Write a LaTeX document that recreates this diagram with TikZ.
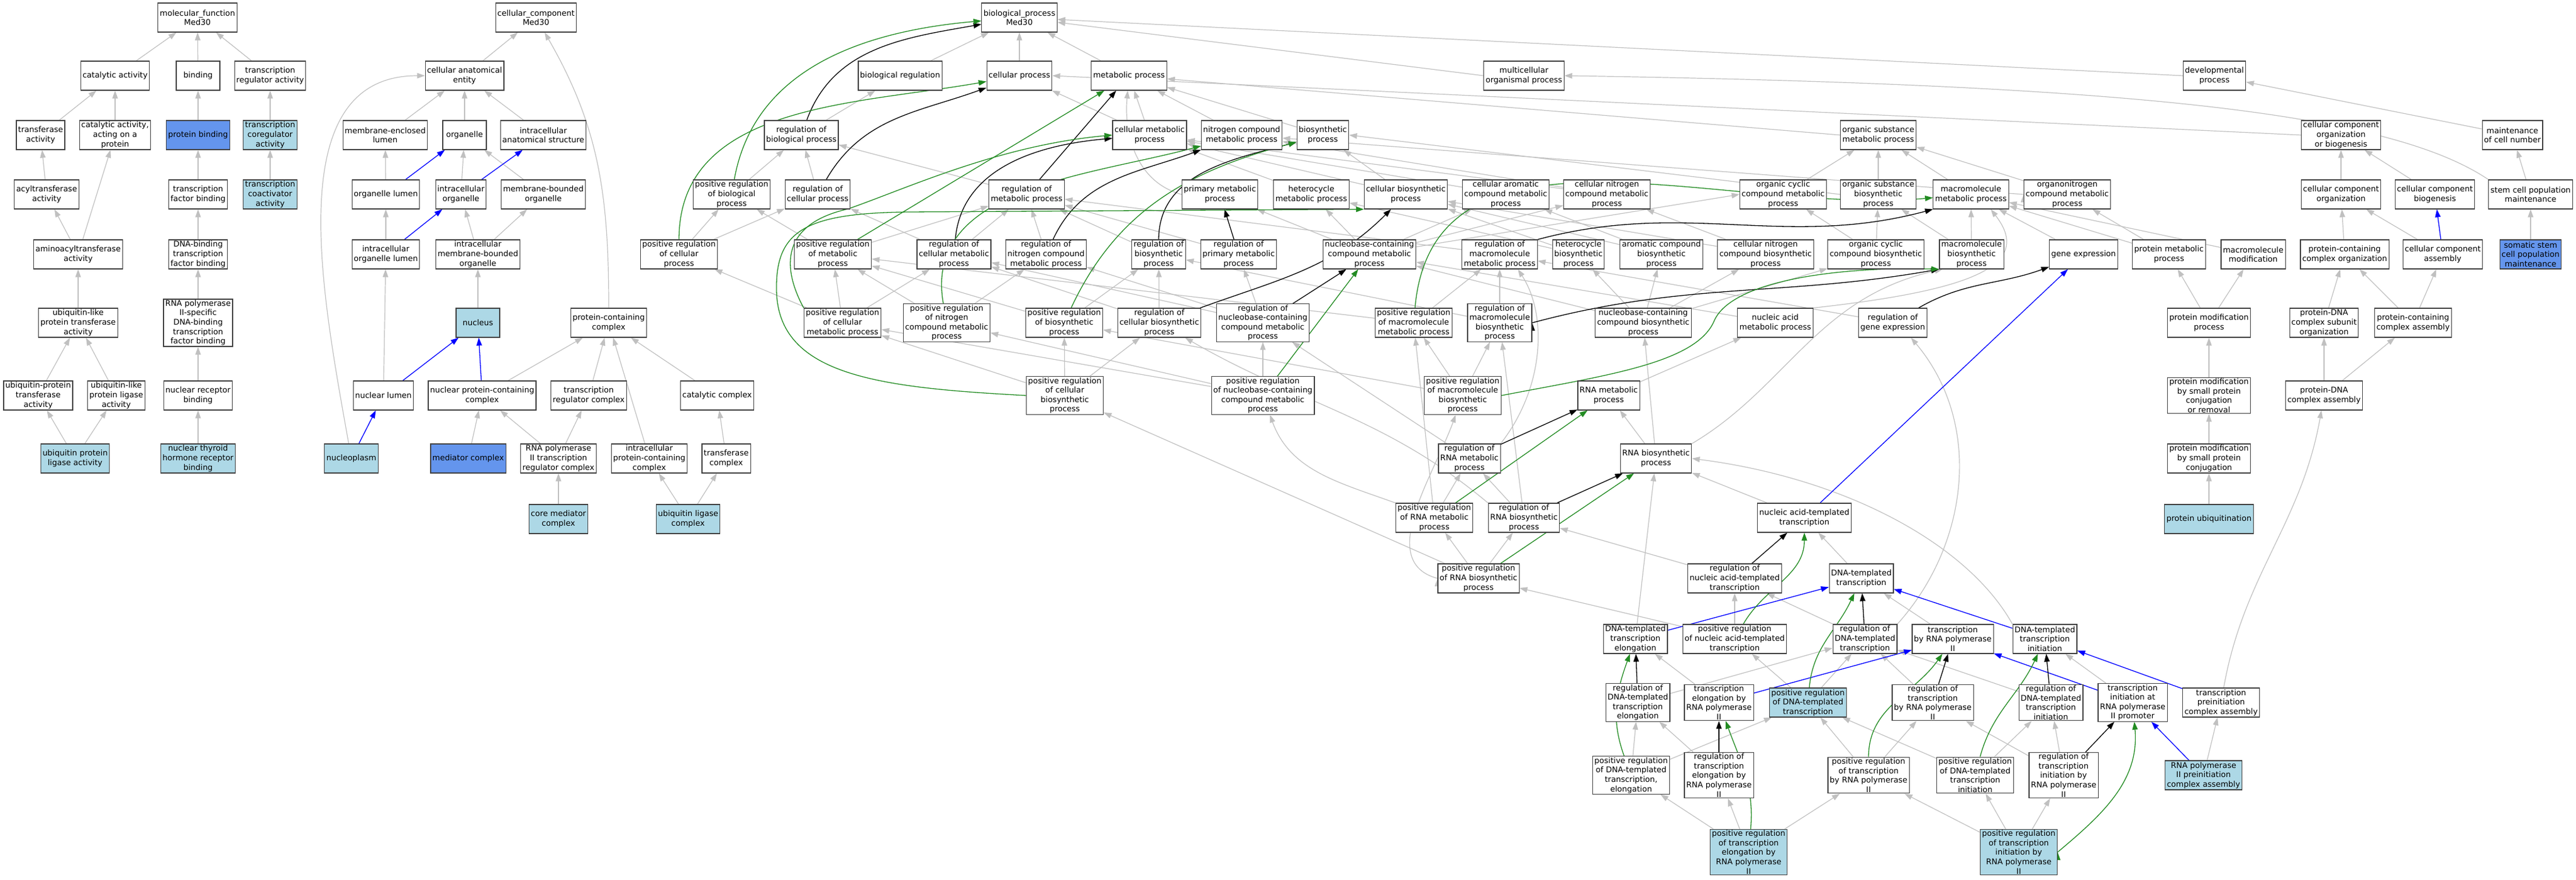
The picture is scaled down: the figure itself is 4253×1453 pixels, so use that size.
\documentclass[tikz,border=0pt]{standalone}
\usepackage{fontspec}
\setmainfont{DejaVu Sans}
\usetikzlibrary{arrows.meta}
\definecolor{lb}{HTML}{ADD8E6}
\definecolor{cb}{HTML}{6495ED}
\definecolor{eg}{HTML}{C0C0C0}
\definecolor{fg}{HTML}{228B22}
\pgfdeclarelayer{bg}
\pgfsetlayers{bg,main}
\begin{document}
\begin{tikzpicture}[x=1pt, y=1pt]
\tikzstyle{every node}=[draw=black!75, line width=1.1pt, shape=rectangle, fill=white, align=center, font=\fontsize{13}{15.6}\selectfont, inner xsep=3pt, inner ysep=1.5pt, minimum width=72pt, minimum height=48pt];
\tikzstyle{isa}=[color=eg, line width=1.2pt, -{Triangle[length=13pt,width=9pt]}];
\tikzstyle{partof}=[color=blue, line width=1.3pt, -{Triangle[length=13pt,width=9pt]}];
\tikzstyle{regs}=[color=black, line width=1.3pt, -{Triangle[length=13pt,width=9pt]}];
\tikzstyle{posregs}=[color=fg, line width=1.3pt, -{Triangle[length=13pt,width=9pt]}];
\useasboundingbox (0,0) rectangle (4253,-1453);
% molecular function
\node (mf) at (326,-29) {molecular\_function\\Med30};
\node (catact) at (190,-125) {catalytic activity};
\node (bind) at (327,-125) {binding};
\node (trreg) at (446,-125) {transcription\\regulator activity};
\node (transf) at (67,-223) {transferase\\activity};
\node (catprot) at (190,-223) {catalytic activity,\\acting on a\\protein};
\node [fill = cb] (protbind) at (327,-223) {protein binding};
\node [fill = lb] (coreg) at (446,-223) {transcription\\coregulator\\activity};
\node (acyl) at (77,-321) {acyltransferase\\activity};
\node (tfbind) at (327,-321) {transcription\\factor binding};
\node [fill = lb] (coact) at (446,-321) {transcription\\coactivator\\activity};
\node (aminoacyl) at (129,-420) {aminoacyltransferase\\activity};
\node (dnatf) at (327,-420) {DNA-binding\\transcription\\factor binding};
\node (ubltrans) at (129,-533) {ubiquitin-like\\protein transferase\\activity};
\node (polIItf) at (327,-533) {RNA polymerase\\II-specific\\DNA-binding\\transcription\\factor binding};
\node (ubptrans) at (63,-653) {ubiquitin-protein\\transferase\\activity};
\node (ublig) at (192,-653) {ubiquitin-like\\protein ligase\\activity};
\node (nrbind) at (327,-653) {nuclear receptor\\binding};
\node [fill = lb] (ubplig) at (124,-757) {ubiquitin protein\\ligase activity};
\node [fill = lb] (thyroid) at (327,-757) {nuclear thyroid\\hormone receptor\\binding};
% cellular component
\node (cc) at (885,-29) {cellular\_component\\Med30};
\node (cae) at (767,-125) {cellular anatomical\\entity};
\node (mel) at (636,-223) {membrane-enclosed\\lumen};
\node (organelle) at (767,-223) {organelle};
\node (ias) at (897,-223) {intracellular\\anatomical structure};
\node (orglumen) at (637,-321) {organelle lumen};
\node (intorg) at (761,-321) {intracellular\\organelle};
\node (mbo) at (897,-321) {membrane-bounded\\organelle};
\node (intorglumen) at (637,-420) {intracellular\\organelle lumen};
\node (imbo) at (789,-420) {intracellular\\membrane-bounded\\organelle};
\node [fill = lb] (nucleus) at (789,-533) {nucleus};
\node (pcc) at (1005,-533) {protein-containing\\complex};
\node (nuclumen) at (633,-653) {nuclear lumen};
\node (npcc) at (796,-653) {nuclear protein-containing\\complex};
\node (trc) at (972,-653) {transcription\\regulator complex};
\node (catcomplex) at (1184,-653) {catalytic complex};
\node [fill = lb] (nucleoplasm) at (580,-757) {nucleoplasm};
\node [fill = cb] (mediator) at (773,-757) {mediator complex};
\node (polIItrc) at (922,-757) {RNA polymerase\\II transcription\\regulator complex};
\node (ipcc) at (1072,-757) {intracellular\\protein-containing\\complex};
\node (trfcomplex) at (1199,-757) {transferase\\complex};
\node [fill = lb] (coremed) at (922,-857) {core mediator\\complex};
\node [fill = lb] (ubligcomplex) at (1136,-857) {ubiquitin ligase\\complex};
% biological process
\node (bp) at (1683,-29) {biological\_process\\Med30};
\node (bioreg) at (1486,-125) {biological regulation};
\node (cellproc) at (1683,-125) {cellular process};
\node (metproc) at (1864,-125) {metabolic process};
\node (multicell) at (2516,-125) {multicellular\\organismal process};
\node (devproc) at (3656,-125) {developmental\\process};
\node (regbio) at (1323,-223) {regulation of\\biological process};
\node (cellmet) at (1898,-223) {cellular metabolic\\process};
\node (nitromet) at (2050,-223) {nitrogen compound\\metabolic process};
\node (biosyn) at (2184,-223) {biosynthetic\\process};
\node (orgsubmet) at (3101,-223) {organic substance\\metabolic process};
\node (ccob) at (3865,-223) {cellular component\\organization\\or biogenesis};
\node (maintcell) at (4148,-223) {maintenance\\of cell number};
\node (posregbio) at (1208,-321) {positive regulation\\of biological\\process};
\node (regcell) at (1350,-321) {regulation of\\cellular process};
\node (regmet) at (1695,-321) {regulation of\\metabolic process};
\node (primet) at (2014,-321) {primary metabolic\\process};
\node (hetmet) at (2165,-321) {heterocycle\\metabolic process};
\node (cellbiosyn) at (2321,-321) {cellular biosynthetic\\process};
\node (cellarom) at (2486,-321) {cellular aromatic\\compound metabolic\\process};
\node (cellnitro) at (2653,-321) {cellular nitrogen\\compound metabolic\\process};
\node (orgcycmet) at (2944,-321) {organic cyclic\\compound metabolic\\process};
\node (orgsubbio) at (3101,-321) {organic substance\\biosynthetic\\process};
\node (macromet) at (3254,-321) {macromolecule\\metabolic process};
\node (orgnitro) at (3413,-321) {organonitrogen\\compound metabolic\\process};
\node (ccorg) at (3865,-321) {cellular component\\organization};
\node (ccbio) at (4020,-321) {cellular component\\biogenesis};
\node (stemcell) at (4178,-321) {stem cell population\\maintenance};
\node (posregcell) at (1121,-420) {positive regulation\\of cellular\\process};
\node (posregmet) at (1375,-420) {positive regulation\\of metabolic\\process};
\node (regcellmet) at (1575,-420) {regulation of\\cellular metabolic\\process};
\node (regnitro) at (1727,-420) {regulation of\\nitrogen compound\\metabolic process};
\node (regbiosyn) at (1913,-420) {regulation of\\biosynthetic\\process};
\node (regprimet) at (2045,-420) {regulation of\\primary metabolic\\process};
\node (nucmet) at (2261,-420) {nucleobase-containing\\compound metabolic\\process};
\node (regmacromet) at (2476,-420) {regulation of\\macromolecule\\metabolic process};
\node (hetbiosyn) at (2606,-420) {heterocycle\\biosynthetic\\process};
\node (arombiosyn) at (2743,-420) {aromatic compound\\biosynthetic\\process};
\node (cellnitrobio) at (2915,-420) {cellular nitrogen\\compound biosynthetic\\process};
\node (orgcycbio) at (3097,-420) {organic cyclic\\compound biosynthetic\\process};
\node (macrobio) at (3255,-420) {macromolecule\\biosynthetic\\process};
\node (geneexpr) at (3440,-420) {gene expression};
\node (protmet) at (3581,-420) {protein metabolic\\process};
\node (macromod) at (3720,-420) {macromolecule\\modification};
\node (pcorg) at (3871,-420) {protein-containing\\complex organization};
\node (ccassembly) at (4033,-420) {cellular component\\assembly};
\node [fill = cb] (somatic) at (4178,-420) {somatic stem\\cell population\\maintenance};
\node (posregcellmet) at (1391,-533) {positive regulation\\of cellular\\metabolic process};
\node (posregnitro) at (1563,-533) {positive regulation\\of nitrogen\\compound metabolic\\process};
\node (posregbiosyn) at (1757,-533) {positive regulation\\of biosynthetic\\process};
\node (regcellbio) at (1914,-533) {regulation of\\cellular biosynthetic\\process};
\node (regnucmet) at (2085,-533) {regulation of\\nucleobase-containing\\compound metabolic\\process};
\node (posregmacromet) at (2334,-533) {positive regulation\\of macromolecule\\metabolic process};
\node (regmacrobio) at (2476,-533) {regulation of\\macromolecule\\biosynthetic\\process};
\node (nucbiosyn) at (2713,-533) {nucleobase-containing\\compound biosynthetic\\process};
\node (nucacidmet) at (2931,-533) {nucleic acid\\metabolic process};
\node (reggeneexpr) at (3125,-533) {regulation of\\gene expression};
\node (protmod) at (3647,-533) {protein modification\\process};
\node (pdnaorg) at (3837,-533) {protein-DNA\\complex subunit\\organization};
\node (pcassembly) at (3984,-533) {protein-containing\\complex assembly};
\node (posregcellbio) at (1758,-653) {positive regulation\\of cellular\\biosynthetic\\process};
\node (posregnucmet) at (2085,-653) {positive regulation\\of nucleobase-containing\\compound metabolic\\process};
\node (posregmacrobio) at (2415,-653) {positive regulation\\of macromolecule\\biosynthetic\\process};
\node (rnamet) at (2656,-653) {RNA metabolic\\process};
\node (protmodsmall) at (3647,-653) {protein modification\\by small protein\\conjugation\\or removal};
\node (pdnaassembly) at (3837,-653) {protein-DNA\\complex assembly};
\node (regrnamet) at (2426,-757) {regulation of\\RNA metabolic\\process};
\node (rnabiosyn) at (2734,-757) {RNA biosynthetic\\process};
\node (protmodconj) at (3647,-757) {protein modification\\by small protein\\conjugation};
\node (posregrnamet) at (2368,-855) {positive regulation\\of RNA metabolic\\process};
\node (regrnabio) at (2516,-855) {regulation of\\RNA biosynthetic\\process};
\node (natemp) at (2979,-855) {nucleic acid-templated\\transcription};
\node [fill = lb] (protubiq) at (3647,-857) {protein ubiquitination};
\node (posregrnabio) at (2441,-955) {positive regulation\\of RNA biosynthetic\\process};
\node (regnatemp) at (2864,-955) {regulation of\\nucleic acid-templated\\transcription};
\node (dtemp) at (3073,-955) {DNA-templated\\transcription};
\node (dtelong) at (2700,-1055) {DNA-templated\\transcription\\elongation};
\node (posregnatemp) at (2864,-1055) {positive regulation\\of nucleic acid-templated\\transcription};
\node (regdtemp) at (3079,-1055) {regulation of\\DNA-templated\\transcription};
\node (trpolii) at (3224,-1055) {transcription\\by RNA polymerase\\II};
\node (dtinit) at (3376,-1055) {DNA-templated\\transcription\\initiation};
\node (regdtelong) at (2704,-1160) {regulation of\\DNA-templated\\transcription\\elongation};
\node (trelongpolii) at (2838,-1160) {transcription\\elongation by\\RNA polymerase\\II};
\node [fill = lb] (posregdtemp) at (2985,-1160) {positive regulation\\of DNA-templated\\transcription};
\node (regtrpolii) at (3191,-1160) {regulation of\\transcription\\by RNA polymerase\\II};
\node (regdtinit) at (3386,-1160) {regulation of\\DNA-templated\\transcription\\initiation};
\node (trinitpolii) at (3521,-1160) {transcription\\initiation at\\RNA polymerase\\II promoter};
\node (preinit) at (3667,-1160) {transcription\\preinitiation\\complex assembly};
\node (posregdtelong) at (2693,-1280) {positive regulation\\of DNA-templated\\transcription,\\elongation};
\node (regtrelongpolii) at (2838,-1280) {regulation of\\transcription\\elongation by\\RNA polymerase\\II};
\node (posregtrpolii) at (3085,-1280) {positive regulation\\of transcription\\by RNA polymerase\\II};
\node (posregdtinit) at (3261,-1280) {positive regulation\\of DNA-templated\\transcription\\initiation};
\node (regtrinitpolii) at (3407,-1280) {regulation of\\transcription\\initiation by\\RNA polymerase\\II};
\node [fill = lb] (polIIpreinit) at (3638,-1280) {RNA polymerase\\II preinitiation\\complex assembly};
\node [fill = lb] (posregtrelong) at (2887,-1407) {positive regulation\\of transcription\\elongation by\\RNA polymerase\\II};
\node [fill = lb] (posregtrinit) at (3333,-1407) {positive regulation\\of transcription\\initiation by\\RNA polymerase\\II};
\begin{pgfonlayer}{bg}
\draw[isa] (catact) edge (mf) (bind) edge (mf) (trreg) edge (mf) % molecular function
 (transf) edge (catact) (catprot) edge (catact) (protbind) edge (bind)
 (coreg) edge (trreg) (acyl) edge (transf) (tfbind) edge (protbind)
 (coact) edge (coreg) (aminoacyl) edge (acyl) (aminoacyl) edge (catprot)
 (dnatf) edge (tfbind) (ubltrans) edge (aminoacyl) (polIItf) edge (dnatf)
 (ubptrans) edge (ubltrans) (ublig) edge (ubltrans) (nrbind) edge (polIItf)
 (ubplig) edge (ubptrans) (ubplig) edge (ublig) (thyroid) edge (nrbind);
\draw[isa] (cae) edge (cc) (pcc) edge[out=90,in=-60] (cc) % cellular component
 (mel) edge (cae) (organelle) edge (cae) (ias) edge (cae)
 (nucleoplasm) edge[out=100,in=180] (cae)
 (orglumen) edge (mel) (intorg) edge (organelle) (mbo) edge (organelle)
 (intorglumen) edge (orglumen) (imbo) edge (intorg) (imbo) edge (mbo)
 (nucleus) edge (imbo) (nuclumen) edge (intorglumen)
 (npcc) edge (pcc) (trc) edge (pcc) (ipcc) edge (pcc) (catcomplex) edge (pcc)
 (mediator) edge (npcc) (polIItrc) edge (npcc) (polIItrc) edge (trc)
 (trfcomplex) edge (catcomplex) (coremed) edge (polIItrc)
 (ubligcomplex) edge (ipcc) (ubligcomplex) edge (trfcomplex);
\draw[partof] (orglumen) edge (organelle) (intorg) edge (ias)
 (intorglumen) edge (intorg) (nuclumen) edge (nucleus)
 (npcc) edge (nucleus) (nucleoplasm) edge (nuclumen);
\draw[isa] (bioreg) edge (bp) (cellproc) edge (bp) (metproc) edge (bp) % biological process
 (multicell.west) edge (bp) (devproc.west) edge (bp)
 (regbio) edge (bioreg) (cellmet) edge (cellproc) (cellmet) edge (metproc)
 (nitromet) edge (metproc) (biosyn) edge (metproc) (orgsubmet.west) edge (metproc)
 (primet.west) edge[out=165,in=-95] (metproc) (ccob.west) edge (cellproc.east)
 (maintcell) edge (devproc) (stemcell) edge (maintcell) (somatic) edge (stemcell)
 (posregbio) edge (regbio) (regcell) edge (regbio) (regmet) edge (regbio)
 (posregcell) edge (posregbio) (posregcell) edge (regcell)
 (posregmet) edge (posregbio) (posregmet) edge (regmet)
 (regcellmet) edge (regcell) (regcellmet) edge (regmet) (regnitro) edge (regmet)
 (regbiosyn) edge (regmet) (regprimet) edge (regmet) (regmacromet) edge (regmet)
 (posregcellmet) edge (posregcell) (posregcellmet) edge (posregmet)
 (posregcellmet) edge (regcellmet) (posregnitro) edge (posregmet)
 (posregnitro) edge (regnitro) (posregbiosyn) edge (posregmet)
 (posregbiosyn) edge (regbiosyn) (posregmacromet) edge (posregmet)
 (posregmacromet) edge (regmacromet) (regcellbio) edge (regbiosyn)
 (regcellbio) edge (regcellmet) (regnucmet) edge (regprimet)
 (regnucmet) edge (regcellmet) (regnucmet) edge (regnitro)
 (regmacrobio) edge (regmacromet) (regmacrobio) edge (regbiosyn)
 (posregcellbio) edge (posregcellmet) (posregcellbio) edge (posregbiosyn)
 (posregcellbio) edge (regcellbio) (posregnucmet) edge (regnucmet)
 (posregnucmet) edge (posregcellmet) (posregnucmet) edge (posregnitro)
 (posregmacrobio) edge (posregmacromet) (posregmacrobio) edge (regmacrobio)
 (posregmacrobio) edge (posregbiosyn)
 (regrnamet) edge (regnucmet) (posregrnamet) edge (regrnamet)
 (posregrnamet.north west) edge[out=160,in=-70] (posregnucmet)
 (posregrnamet) edge (posregmacromet)
 (regrnabio) edge (regrnamet) (regrnabio) edge (regmacrobio)
 (regrnabio.north west) edge[out=140,in=-30] (regcellbio)
 (posregrnabio) edge (posregrnamet) (posregrnabio) edge (regrnabio)
 (posregrnabio.west) edge[out=165,in=-110] (posregmacrobio)
 (posregrnabio) edge (posregcellbio);
\draw[isa] (regrnamet.north east) .. controls (2550,-640) and (2555,-520) .. ([xshift=30pt]regmacromet.south);
\draw[isa] (hetmet) edge (cellmet) (cellarom) edge (cellmet) (cellnitro) edge (cellmet) % metabolism
 (cellnitro) edge (nitromet) (cellbiosyn) edge (biosyn) (cellbiosyn) edge (cellmet)
 (orgsubbio.west) edge (biosyn.east) (orgsubbio) edge (orgsubmet)
 (orgcycmet) edge (orgsubmet) (macromet) edge (orgsubmet) (orgnitro) edge (orgsubmet)
 (orgnitro.west) edge (nitromet)
 (nucmet) edge (primet) (nucmet) edge (hetmet) (nucmet) edge (cellarom)
 (nucmet) edge (cellnitro) (nucmet) edge (orgcycmet.west)
 (hetbiosyn) edge (hetmet) (hetbiosyn) edge (cellbiosyn)
 (arombiosyn) edge (cellarom) (arombiosyn) edge (cellbiosyn)
 (cellnitrobio) edge (cellnitro) (cellnitrobio) edge (cellbiosyn)
 (orgcycbio) edge (orgcycmet) (orgcycbio) edge (orgsubbio)
 (macrobio) edge (orgsubbio) (macrobio) edge (macromet)
 (geneexpr) edge (macromet) (protmet) edge (macromet) (protmet) edge (orgnitro)
 (macromod) edge (macromet)
 (nucbiosyn) edge (nucmet) (nucbiosyn) edge (hetbiosyn) (nucbiosyn) edge (arombiosyn)
 (nucbiosyn) edge (cellnitrobio) (nucbiosyn) edge (orgcycbio)
 (nucacidmet) edge (nucmet) (reggeneexpr) edge (regmacromet)
 (rnamet) edge (nucacidmet) (rnabiosyn) edge (rnamet) (rnabiosyn) edge (nucbiosyn)
 (natemp) edge (rnabiosyn)
 (protmod) edge (protmet) (protmod) edge (macromod) (protmodsmall) edge (protmod)
 (protmodconj) edge (protmodsmall) (protubiq) edge (protmodconj)
 (ccorg) edge (ccob) (ccbio) edge (ccob) (ccassembly) edge (ccorg)
 (pcorg) edge (ccorg) (pdnaorg) edge (pcorg) (pcassembly) edge (pcorg)
 (pcassembly) edge (ccassembly) (pdnaassembly) edge (pdnaorg)
 (pdnaassembly) edge (pcassembly) (preinit) edge[out=80,in=-100] (pdnaassembly)
 (polIIpreinit) edge (preinit);
\draw[isa] (stemcell.north west) .. controls (3950,-190) and (3550,-140) .. (multicell.east);
\draw[isa] (nucacidmet.north east) .. controls (3250,-480) and (3360,-440) .. ([xshift=-30pt]macromet.south east);
\draw[isa] (rnabiosyn.north east) .. controls (2950,-640) and (3000,-490) .. ([xshift=6pt]macrobio.south west);
\draw[isa] (dtinit.north west) .. controls (3250,-900) and (3050,-790) .. (rnabiosyn.east);
\draw[isa] (regdtemp.north east) .. controls (3250,-900) and (3275,-700) .. ([xshift=30pt]reggeneexpr.south);
\draw[isa] (regnatemp) edge (regrnabio) (posregnatemp) edge (regnatemp) % transcription
 (posregnatemp) edge (posregrnabio) (dtemp) edge (natemp) (regdtemp) edge (regnatemp)
 (dtelong) edge (rnabiosyn) (trpolii) edge (dtemp)
 (posregdtemp) edge (regdtemp) (posregdtemp) edge (posregnatemp)
 (regdtelong) edge (regdtemp) (trelongpolii) edge (dtelong)
 (regtrpolii) edge (regdtemp) (regdtinit) edge (regdtemp) (trinitpolii) edge (dtinit)
 (posregdtelong) edge (regdtelong) (posregdtelong) edge (posregdtemp)
 (regtrelongpolii) edge (regdtelong) (posregtrpolii) edge (regtrpolii)
 (posregtrpolii) edge (posregdtemp) (posregdtinit) edge (regdtinit)
 (posregdtinit) edge (posregdtemp) (regtrinitpolii) edge (regdtinit)
 (regtrinitpolii) edge (regtrpolii)
 (posregtrelong) edge (posregdtelong) (posregtrelong) edge (regtrelongpolii)
 (posregtrelong) edge (posregtrpolii) (posregtrinit) edge (posregtrpolii)
 (posregtrinit) edge (posregdtinit) (posregtrinit) edge (regtrinitpolii);
\draw[partof] (ccassembly) edge (ccbio) (natemp) edge (geneexpr)
 (dtelong) edge (dtemp) (dtinit) edge (dtemp)
 (trelongpolii) edge (trpolii) (trinitpolii) edge (trpolii)
 (preinit) edge (dtinit) (polIIpreinit) edge (trinitpolii);
\draw[regs] (regbio) edge[out=70,in=190] (bp) (regcell) edge[out=60,in=200] (cellproc)
 (regmet) edge (metproc) (regcellmet) edge[out=85,in=185] (cellmet)
 (regnitro) edge[out=65,in=200] (nitromet) (regbiosyn) edge[out=90,in=195] (biosyn)
 (regprimet) edge (primet) (regcellbio) edge[out=20,in=225] (cellbiosyn)
 (regnucmet) edge (nucmet)
 (regmacromet.north east) edge[out=15,in=195] (macromet.south west)
 (regmacrobio.east) edge[out=15,in=190] (macrobio.south west)
 (reggeneexpr) edge[out=30,in=200] (geneexpr)
 (regrnamet) edge (rnamet) (regrnabio) edge (rnabiosyn) (regnatemp) edge (natemp)
 (regdtemp) edge (dtemp) (regdtelong) edge (dtelong)
 (regtrelongpolii) edge (trelongpolii) (regtrpolii) edge (trpolii)
 (regdtinit) edge (dtinit) (regtrinitpolii) edge (trinitpolii);
\draw[posregs] (posregbio) edge[out=80,in=185] (bp) (posregcell) edge[out=90,in=190] (cellproc)
 (posregmet) edge (metproc) (posregnitro) edge[out=100,in=195] (nitromet)
 (posregbiosyn) edge[out=65,in=195] (biosyn) (posregnucmet) edge (nucmet)
 (posregmacromet) edge[out=85,in=185] (macromet)
 (posregrnamet) edge (rnamet) (posregrnabio) edge (rnabiosyn)
 (posregnatemp) edge[out=60,in=-90] (natemp) (posregdtemp) edge[out=85,in=-115] (dtemp)
 (posregdtelong) edge[out=110,in=-110] (dtelong)
 (posregtrelong) edge[out=85,in=-70] (trelongpolii)
 (posregtrpolii) edge[out=90,in=-125] (trpolii)
 (posregdtinit) edge[out=75,in=-115] (dtinit)
 (posregtrinit.east) edge[out=40,in=-85] (trinitpolii);
\draw[posregs] (posregcellmet.north west) .. controls (1290,-440) and (1290,-370) .. (1400,-345) .. controls (1500,-310) and (1650,-240) .. (cellmet.west);
\draw[posregs] (posregcellbio.west) .. controls (1450,-640) and (1285,-620) .. (1282,-480) .. controls (1280,-380) and (1330,-352) .. (1500,-350) -- (cellbiosyn.south west);
\draw[posregs] (posregmacrobio.east) .. controls (2650,-620) and (2800,-600) .. (2830,-530) .. controls (2860,-460) and (3050,-440) .. (macrobio.south west);
\end{pgfonlayer}
\end{tikzpicture}
\end{document}
